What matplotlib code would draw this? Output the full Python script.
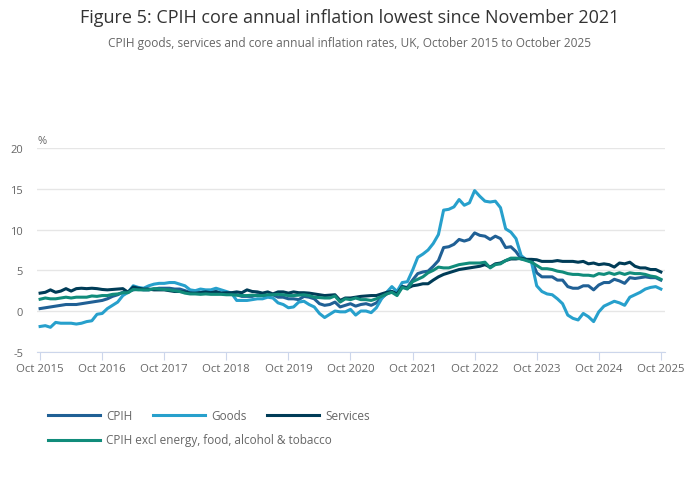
import numpy as np
import pandas as pd
import matplotlib
matplotlib.use("Agg")
import matplotlib.pyplot as plt
from matplotlib.lines import Line2D

plt.rcParams['font.family'] = ['Open Sans', 'DejaVu Sans']

########################
# Data (monthly, Oct 2015 - Oct 2025)
########################
months = pd.date_range("2015-10-01", "2025-10-01", freq="MS")

cpih = [0.3, 0.4, 0.5,
        0.6, 0.7, 0.8, 0.8, 0.8, 0.9, 1.0, 1.1, 1.2, 1.3, 1.5, 1.8,
        2.0, 2.3, 2.4, 2.6, 2.7, 2.6, 2.6, 2.7, 2.8, 2.8, 2.8, 2.7,
        2.7, 2.5, 2.3, 2.2, 2.3, 2.3, 2.3, 2.4, 2.2, 2.2, 2.2, 2.0,
        1.8, 1.8, 1.8, 2.0, 1.9, 1.9, 2.0, 1.7, 1.7, 1.5, 1.5, 1.4,
        1.8, 1.7, 1.5, 0.9, 0.7, 0.8, 1.1, 0.5, 0.7, 0.9, 0.6, 0.8,
        0.9, 0.7, 1.0, 1.6, 2.1, 2.4, 2.1, 3.0, 2.9, 3.8, 4.6, 4.8,
        4.9, 5.5, 6.2, 7.8, 7.9, 8.2, 8.8, 8.6, 8.8, 9.6, 9.3, 9.2,
        8.8, 9.2, 8.9, 7.8, 7.9, 7.3, 6.4, 6.3, 6.3, 4.7, 4.2, 4.2,
        4.2, 3.8, 3.8, 3.0, 2.8, 2.8, 3.1, 3.1, 2.6, 3.2, 3.5, 3.5,
        3.9, 3.7, 3.4, 4.1, 4.0, 4.1, 4.2, 4.1, 4.1, 3.8]

goods = [-1.9, -1.8, -2.0,
         -1.4, -1.5, -1.5, -1.5, -1.6, -1.5, -1.3, -1.2, -0.4, -0.3, 0.3, 0.7,
         1.1, 1.9, 2.3, 3.1, 2.9, 2.8, 3.1, 3.3, 3.4, 3.4, 3.5, 3.5,
         3.3, 3.1, 2.6, 2.5, 2.7, 2.6, 2.6, 2.8, 2.6, 2.4, 2.2, 1.3,
         1.3, 1.3, 1.4, 1.5, 1.5, 1.7, 1.6, 1.0, 0.8, 0.4, 0.5, 1.1,
         1.2, 0.8, 0.5, -0.3, -0.8, -0.4, 0.0, -0.1, -0.1, 0.2, -0.5, 0.0,
         0.0, -0.2, 0.4, 1.5, 2.3, 3.0, 2.4, 3.5, 3.6, 5.0, 6.6, 7.0,
         7.5, 8.3, 9.4, 12.4, 12.5, 12.8, 13.7, 13.0, 13.3, 14.8, 14.1, 13.5,
         13.4, 13.5, 12.7, 10.1, 9.7, 8.9, 6.8, 6.3, 6.0, 3.1, 2.4, 2.1,
         2.0, 1.5, 0.9, -0.5, -0.9, -1.1, -0.3, -0.7, -1.3, -0.1, 0.6, 0.9,
         1.2, 1.0, 0.7, 1.7, 2.0, 2.3, 2.7, 2.9, 3.0, 2.7]

services = [2.2, 2.3, 2.6,
            2.3, 2.45, 2.75, 2.45, 2.75, 2.8, 2.75, 2.8, 2.75, 2.65, 2.6, 2.65,
            2.7, 2.75, 2.3, 2.95, 2.8, 2.7, 2.7, 2.6, 2.6, 2.6, 2.5, 2.4,
            2.4, 2.35, 2.2, 2.2, 2.25, 2.35, 2.25, 2.35, 2.2, 2.25, 2.25, 2.35,
            2.25, 2.6, 2.4, 2.35, 2.2, 2.35, 2.1, 2.35, 2.35, 2.2, 2.35, 2.25,
            2.25, 2.2, 2.1, 2.0, 1.9, 1.95, 2.0, 1.3, 1.6, 1.6, 1.7, 1.8,
            1.85, 1.9, 1.9, 2.1, 2.3, 2.4, 2.1, 3.0, 2.8, 3.1, 3.2, 3.35,
            3.35, 3.8, 4.2, 4.5, 4.7, 4.9, 5.1, 5.2, 5.3, 5.4, 5.5, 5.7,
            5.4, 5.8, 5.9, 6.2, 6.4, 6.4, 6.5, 6.35, 6.35, 6.3, 6.1, 6.1,
            6.1, 6.2, 6.1, 6.1, 6.1, 6.0, 6.1, 5.8, 5.9, 5.7, 5.8, 5.7,
            5.4, 5.9, 5.8, 6.0, 5.5, 5.3, 5.3, 5.1, 5.1, 4.8]

core = [1.45, 1.6, 1.5,
        1.5, 1.6, 1.7, 1.6, 1.7, 1.7, 1.7, 1.85, 1.8, 1.9, 1.9, 2.05,
        2.1, 2.25, 2.25, 2.65, 2.6, 2.6, 2.6, 2.75, 2.7, 2.65, 2.6, 2.5,
        2.4, 2.2, 2.1, 2.1, 2.05, 2.1, 2.05, 2.05, 2.05, 2.0, 2.0, 1.95,
        1.9, 1.9, 1.95, 1.9, 1.9, 2.0, 2.0, 2.05, 2.0, 1.9, 1.9, 1.95,
        2.0, 1.9, 1.7, 1.65, 1.6, 1.6, 1.85, 1.1, 1.5, 1.4, 1.6, 1.4,
        1.4, 1.3, 1.5, 1.8, 2.1, 2.3, 1.9, 2.9, 2.7, 3.6, 3.9, 4.2,
        4.7, 5.0, 5.4, 5.3, 5.3, 5.5, 5.7, 5.8, 5.9, 5.9, 5.9, 6.0,
        5.3, 5.7, 5.8, 6.2, 6.5, 6.5, 6.4, 6.2, 6.0, 5.6, 5.2, 5.2,
        5.1, 4.9, 4.8, 4.6, 4.5, 4.5, 4.4, 4.4, 4.3, 4.6, 4.5, 4.7,
        4.5, 4.7, 4.5, 4.7, 4.6, 4.6, 4.5, 4.3, 4.2, 3.9]

series_names = ["CPIH", "Goods", "Services",
                "CPIH excl energy, food, alcohol & tobacco"]
series_values = [cpih, goods, services, core]
series_colors = ["#206095", "#27a0cc", "#003c57", "#118c7b"]

y_ticks = [-5, 0, 5, 10, 15, 20]

########################
# Plot
########################
fig = plt.figure(figsize=(7, 5.02), dpi=100)
ax = fig.add_axes([37 / 700, 1 - 352.7 / 502, 628 / 700, 203.4 / 502])

x = np.arange(len(months))
lines = []
for name, vals, col in zip(series_names, series_values, series_colors):
    ln, = ax.plot(x, vals, color=col, linewidth=2.2, label=name,
                  solid_joinstyle="round")
    lines.append(ln)

ax.set_xlim(-0.6, 120.8)
ax.set_ylim(-5, 20)
ax.set_yticks(y_ticks)
ax.set_yticklabels([str(v) for v in y_ticks])
oct_idx = [i for i, m in enumerate(months) if m.month == 10]
ax.set_xticks(oct_idx)
ax.set_xticklabels([f"Oct {months[i].year}" for i in oct_idx])

ax.grid(axis="y", color="#e6e6e6", linewidth=1)
ax.set_axisbelow(True)
for s in ["top", "right", "left"]:
    ax.spines[s].set_visible(False)
ax.spines["bottom"].set_color("#ccd6eb")
ax.tick_params(axis="y", length=0, labelsize=8, labelcolor="#666666", pad=10)
ax.tick_params(axis="x", length=6, color="#ccd6eb", labelsize=8.2,
               labelcolor="#666666", pad=2)

ax.text(0.0, 1.012, "%", transform=ax.transAxes, fontsize=8,
        color="#666666", ha="left", va="bottom")

# Titles
fig.text(0.5, 1 - 18 / 502, "Figure 5: CPIH core annual inflation lowest since November 2021",
         ha="center", va="center", fontsize=13, color="#333333")
fig.text(0.5, 1 - 44 / 502, "CPIH goods, services and core annual inflation rates, UK, October 2015 to October 2025",
         ha="center", va="center", fontsize=8.6, color="#666666")

# Legend (two rows, drawn by hand)
legend_pos = [(48, 416), (153, 416), (267, 416), (48, 441)]
for ln, (px, py) in zip(lines, legend_pos):
    fy = 1 - py / 502
    fig.add_artist(Line2D([px / 700, (px + 52) / 700], [fy, fy],
                          color=ln.get_color(), linewidth=2.2))
    fig.text((px + 58) / 700, fy, ln.get_label(), ha="left", va="center",
             fontsize=8.5, color="#666666")

fig.savefig("out.png", dpi=100)
